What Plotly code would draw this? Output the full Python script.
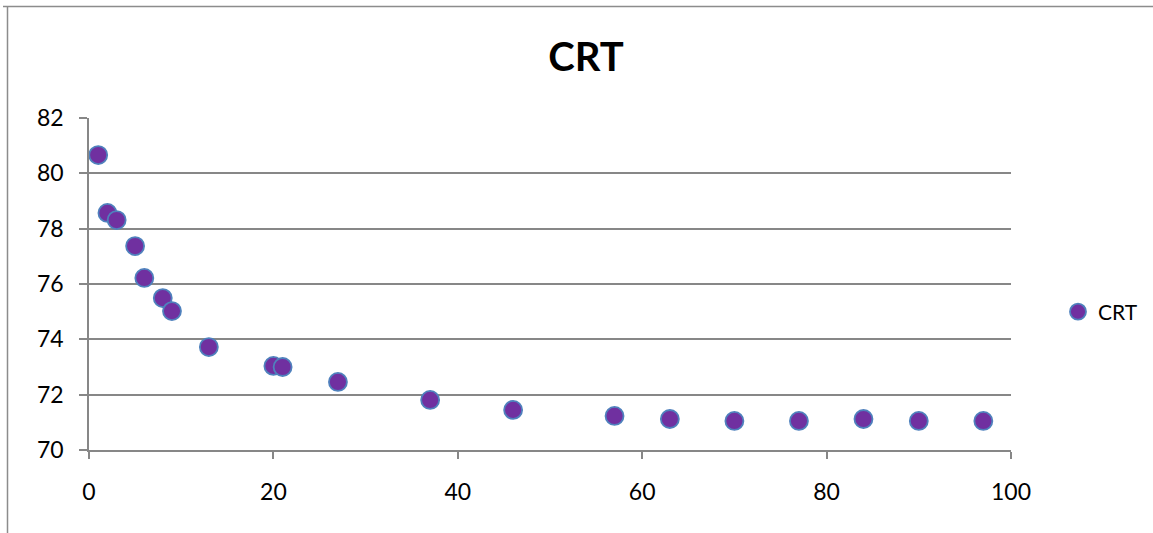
import plotly.graph_objects as go

# CRT measurements
x_vals = [1, 2, 3, 5, 6, 8, 9, 13, 20, 21, 27, 37, 46, 57, 63, 70, 77, 84, 90, 97]
crt_vals = [80.66, 78.57, 78.31, 77.37, 76.22, 75.49, 75.02, 73.72, 73.04, 73.0,
            72.46, 71.81, 71.45, 71.23, 71.12, 71.05, 71.05, 71.12, 71.05, 71.05]

x_ticks = [0, 20, 40, 60, 80, 100]
y_ticks = [70, 72, 74, 76, 78, 80, 82]

FONT = "Lato, 'Open Sans', sans-serif"
GRID = "#878787"

fig = go.Figure()
fig.add_trace(go.Scatter(
    x=x_vals, y=crt_vals, mode="markers", name="CRT",
    marker=dict(size=18, color="#7030A0", line=dict(color="#4F81BD", width=1.8)),
))

W, H = 1153, 533
L, R, T, B = 89, 142, 118, 83
pw, ph = W - L - R, H - T - B

def px_x(p):
    return (p - L) / pw

def px_y(p):
    return (H - B - p) / ph

fig.update_layout(
    width=W, height=H,
    margin=dict(l=L, r=R, t=T, b=B, autoexpand=False),
    paper_bgcolor="white", plot_bgcolor="white",
    font=dict(family=FONT, size=23, color="#000000"),
    title=dict(text="<b>CRT</b>", x=586 / W, xanchor="center", xref="container",
               y=1 - 57 / H, yanchor="middle", yref="container",
               font=dict(size=40, family=FONT)),
    showlegend=True,
    legend=dict(x=px_x(1058), xanchor="left", y=px_y(312), yanchor="middle",
                font=dict(size=21), itemsizing="trace", bgcolor="rgba(0,0,0,0)"),
    xaxis=dict(range=[0, 100], tickvals=x_ticks, showgrid=False, zeroline=False,
               showline=True, linecolor=GRID, linewidth=1.5, ticks="outside",
               ticklen=7, tickcolor=GRID, tickwidth=1.5, ticklabelstandoff=14),
    yaxis=dict(range=[70, 82], tickvals=y_ticks, showgrid=True, gridcolor=GRID,
               gridwidth=1.5, zeroline=False, showline=True, linecolor=GRID,
               linewidth=1.5, ticks="outside", ticklen=8, tickcolor=GRID,
               tickwidth=1.5, ticklabelstandoff=11),
    shapes=[
        dict(type="line", xref="paper", yref="paper",
             x0=px_x(3), x1=px_x(W + 5), y0=px_y(6.5), y1=px_y(6.5),
             line=dict(color="#8C8C8C", width=1.5)),
        dict(type="line", xref="paper", yref="paper",
             x0=px_x(7.5), x1=px_x(7.5), y0=px_y(6.5), y1=px_y(H + 5),
             line=dict(color="#8C8C8C", width=1.5)),
    ],
)

fig.write_html("out.html")
